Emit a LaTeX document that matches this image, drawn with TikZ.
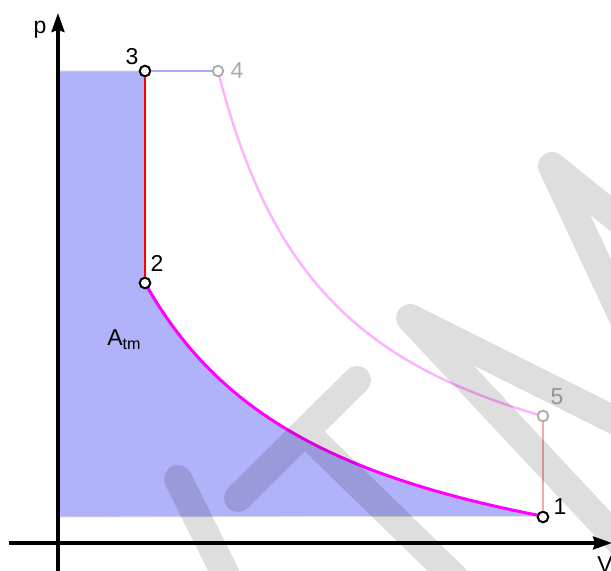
\documentclass[tikz,border=0pt]{standalone}
\usepackage{fontspec}
\setmainfont{Liberation Sans}
\usetikzlibrary{positioning, arrows.meta}

\definecolor{areablue}{RGB}{176,178,250}
\definecolor{isobar}{RGB}{170,170,250}
\definecolor{adiab}{RGB}{255,0,255}
\definecolor{adiabfaint}{RGB}{255,176,255}
\definecolor{isochor}{RGB}{255,0,0}
\definecolor{isochorfaint}{RGB}{245,170,170}
\definecolor{ghost}{RGB}{170,170,170}

\begin{document}
\begin{tikzpicture}
    [
        x=5pt, y=-5pt,
        on grid,
        font=\fontsize{11.5}{13}\selectfont,
        axis/.style={line width=1.6pt, -{Stealth[length=9.5pt, width=6.5pt, inset=1pt]}},
        state/.style={draw, circle, fill=white, inner sep=0pt, minimum size=5.3pt, line width=1pt},
        faint/.style={state, draw=ghost, line width=0.9pt},
        lbl/.style={inner sep=0pt},
        watermark/.style={draw=black, draw opacity=0.13, line width=14pt, line cap=round, line join=round}
    ]
        \useasboundingbox (0,0) rectangle (61.1,57.1);
        % =========================================================================
        % POINTS OF THE CYCLE
        % =========================================================================
        \coordinate (c1) at (54.3,51.7);
        \coordinate (c2) at (14.5,28.3);
        \coordinate (c3) at (14.5,7.1);
        \coordinate (c4) at (21.8,7.1);
        \coordinate (c5) at (54.3,41.6);
        \coordinate (top) at (5.8,7.1);
        \coordinate (bottom) at (5.8,51.7);
        % --- axes ends ---
        \coordinate (ystart) at (5.8,57.5);
        \coordinate (yend) at (5.8,1.3);
        \coordinate (xstart) at (0.9,54.3);
        \coordinate (xend) at (61.2,54.3);

        % =========================================================================
        % AREA
        % =========================================================================
        \fill [areablue, draw=black!12, line width=0.4pt]
            (top) -- (c3) -- (c2)
            -- plot [domain=14.5:54.3, samples=80] (\x, {63.05-677.65/(\x+5)})
            -- (bottom) -- cycle;

        % --- AXES ---
        \draw [axis] (ystart) -- (yend);
        \draw [axis] (xstart) -- (xend);

        % --- CURVES ---
        \draw [adiab, line width=1.5pt]
            plot [domain=14.5:54.3, samples=80] (\x, {63.05-677.65/(\x+5)});
        \draw [adiabfaint, line width=1.2pt]
            plot [domain=21.8:54.3, samples=80] (\x, {54.35-566.96/(\x-9.8)});

        % =========================================================================
        % NODES
        % =========================================================================
        \node [state] (n1) at (c1) {};
        \node [state] (n2) at (c2) {};
        \node [state] (n3) at (c3) {};
        \node [faint] (n4) at (c4) {};
        \node [faint] (n5) at (c5) {};

        % --- STRAIGHT PATHS ---
        \draw [isobar, line width=1pt] (n3) -- (n4);
        \draw [isochor, line width=1pt] (n3) -- (n2);
        \draw [isochorfaint, line width=1pt] (n5) -- (n1);

        % --- LABELS ---
        \node [lbl, above left=7pt and 6.5pt of n3] (l3) {3};
        \node [lbl, right=9.5pt of n4, text=ghost] (l4) {4};
        \node [lbl, above right=10pt and 6pt of n2] (l2) {2};
        \node [lbl, above right=9.5pt and 7pt of n5, text=ghost] (l5) {5};
        \node [lbl, above right=5pt and 8.5pt of n1] (l1) {1};
        \node [lbl] (pl) at (4.0,3.0) {p};
        \node [lbl] (vl) at (60.5,56.5) {V};
        \node [lbl, anchor=base west] (atm) at (10.7,34.6) {A\textsubscript{tm}};

        % =========================================================================
        % WATERMARK
        % =========================================================================
        \draw [watermark]
            (17.8,47.9) -- (23.5,59.3)
            (23.8,49.8) -- (35.7,38.0)
            (30.5,43.2) -- (45.5,57.8)
            (63,55.3) -- (41,31.8) -- (63,42.8)
            (63,33.3) -- (55.2,16.6) -- (63,22.9);
\end{tikzpicture}
\end{document}
